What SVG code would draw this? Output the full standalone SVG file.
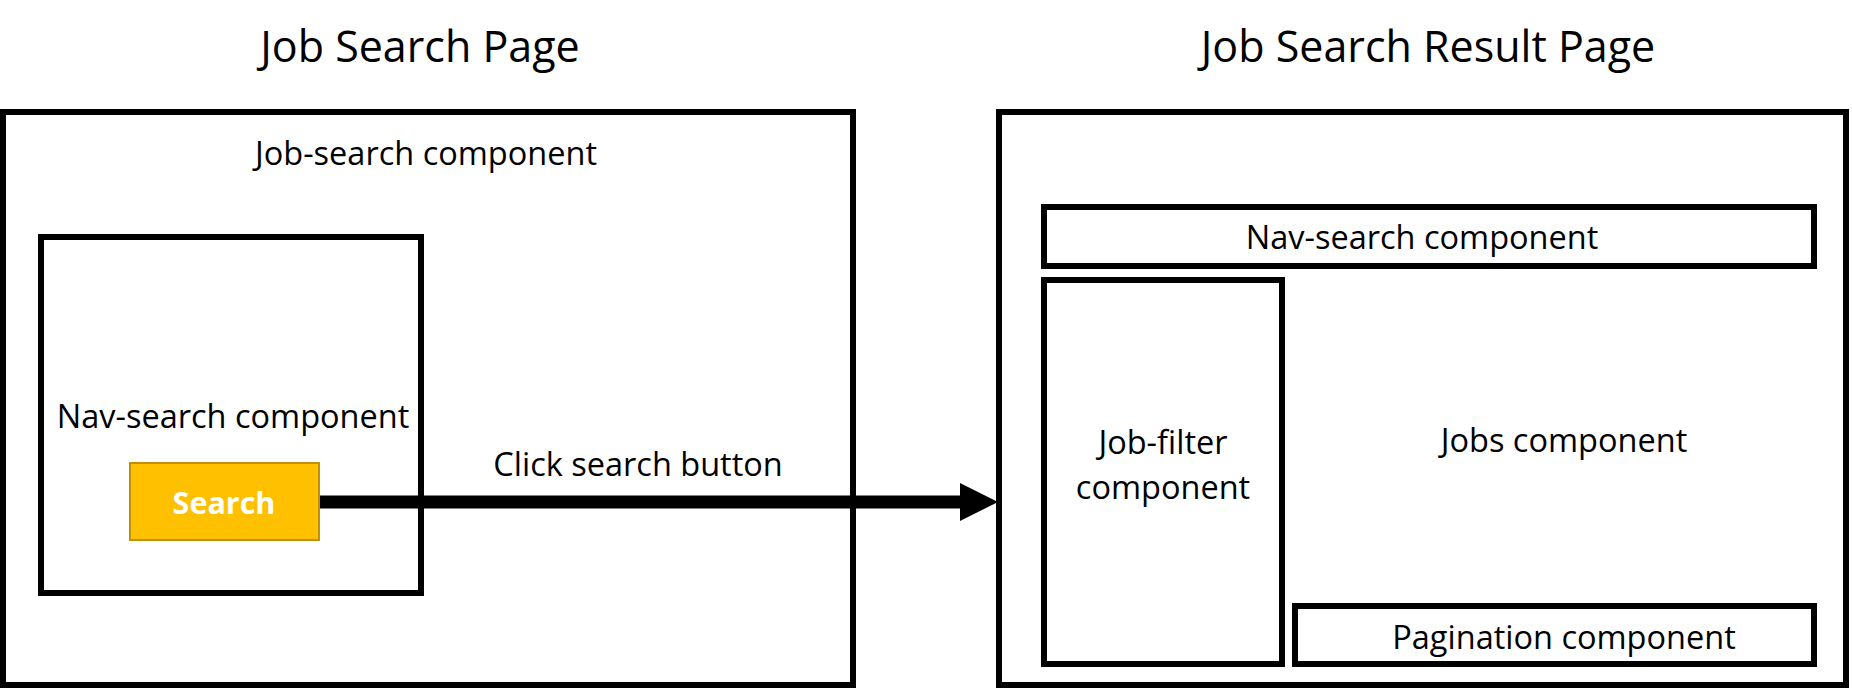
<svg xmlns="http://www.w3.org/2000/svg" width="1852" height="688" viewBox="0 0 1852 688">
  <style>
    .box { fill: none; stroke: #000; stroke-width: 6; }
    .btn { fill: #FFC000; stroke: #BF9000; stroke-width: 2; }
    .title { font-family: "Open Sans", "Liberation Sans", sans-serif; font-size: 43px; fill: #000; text-anchor: middle; }
    .label { font-family: "Open Sans", "Liberation Sans", sans-serif; font-size: 32.5px; fill: #000; text-anchor: middle; }
    .btn-text { font-family: "Open Sans", "Liberation Sans", sans-serif; font-size: 30.5px; font-weight: bold; fill: #fff; text-anchor: middle; }
  </style>
  <rect width="1852" height="688" fill="#fff"/>

  <!-- page titles -->
  <text class="title" x="420" y="62">Job Search Page</text>
  <text class="title" x="1428" y="62">Job Search Result Page</text>

  <!-- left page: job-search component -->
  <g id="job-search-component">
    <rect class="box" x="3" y="112" width="850" height="573"/>
    <text class="label" x="426" y="165">Job-search component</text>
  </g>
  <g id="nav-search-left">
    <rect class="box" x="41" y="237" width="380" height="356"/>
    <text class="label" x="233" y="428">Nav-search component</text>
  </g>
  <g id="search-button">
    <rect class="btn" x="130" y="463" width="189" height="77"/>
    <text class="btn-text" x="224" y="514">Search</text>
  </g>

  <!-- right page: result layout -->
  <g id="result-page">
    <rect class="box" x="999" y="112" width="847" height="573"/>
  </g>
  <g id="nav-search-right">
    <rect class="box" x="1044" y="207" width="770" height="59"/>
    <text class="label" x="1422" y="249">Nav-search component</text>
  </g>
  <g id="job-filter">
    <rect class="box" x="1044" y="280" width="238" height="384"/>
    <text class="label" x="1163" y="454">Job-filter</text>
    <text class="label" x="1163" y="499">component</text>
  </g>
  <g id="jobs">
    <text class="label" x="1564" y="452">Jobs component</text>
  </g>
  <g id="pagination">
    <rect class="box" x="1295" y="606" width="519" height="58"/>
    <text class="label" x="1564" y="649">Pagination component</text>
  </g>

  <!-- navigation connector -->
  <g id="connectors">
    <line x1="320" y1="502" x2="962" y2="502" stroke="#000" stroke-width="13"/>
    <polygon points="960,483 998,502 960,521" fill="#000"/>
    <text class="label" x="638" y="476">Click search button</text>
  </g>
</svg>
